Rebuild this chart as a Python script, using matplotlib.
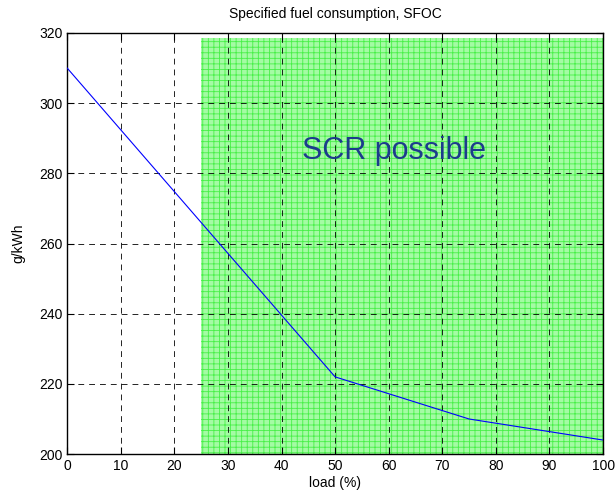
import matplotlib
matplotlib.use("Agg")
import matplotlib.pyplot as plt
from matplotlib.patches import Rectangle

plt.rcParams['font.family'] = ['Liberation Sans', 'DejaVu Sans']
plt.rcParams['hatch.linewidth'] = 0.6

load = [0, 25, 50, 75, 100]
sfoc = [310, 266, 222, 210, 204]
xticks = [0, 10, 20, 30, 40, 50, 60, 70, 80, 90, 100]
yticks = [200, 220, 240, 260, 280, 300, 320]
scr_start, scr_end, scr_top = 25, 100, 318.5

fig = plt.figure(figsize=(6.16, 4.99), dpi=100)
ax = fig.add_axes([0.109, 0.090, 0.870, 0.844])
ax.set_xlim(0, 100)
ax.set_ylim(200, 320)

ax.add_patch(Rectangle((scr_start, 200), scr_end - scr_start, scr_top - 200,
                       facecolor='#a4fba4', edgecolor='#48f048', linewidth=0,
                       hatch='+++', zorder=1))
ax.plot(load, sfoc, color='#0000ff', lw=0.8, zorder=3)
ax.grid(True, color='black', linestyle=(0, (7, 6)), linewidth=0.6, zorder=2)
ax.set_axisbelow(False)

ax.text(61, 286.5, 'SCR possible', fontsize=22, color='#1c3c8c', ha='center', va='center', zorder=4)

ax.set_xticks(xticks)
ax.set_yticks(yticks)
ax.tick_params(direction='in', length=5, labelsize=10, top=True, right=True)
ax.set_xlabel('load (%)', fontsize=10, labelpad=2)
ax.set_ylabel('g/kWh', fontsize=10, labelpad=10)
ax.set_title('Specified fuel consumption, SFOC', fontsize=10, pad=11)
for s in ax.spines.values():
    s.set_linewidth(1.0)

fig.savefig('out.png', dpi=100)
